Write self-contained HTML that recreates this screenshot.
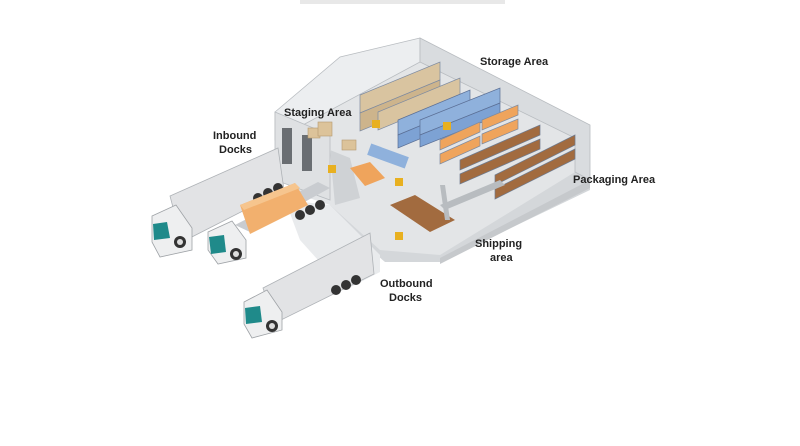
<!DOCTYPE html>
<html><head><style>
html,body{margin:0;padding:0;background:#fff;}
svg{display:block;}
text{font-family:"Liberation Sans",Arial,sans-serif;font-weight:bold;font-size:11px;fill:#222;}
</style></head><body>
<svg width="800" height="446" viewBox="0 0 800 446" xmlns="http://www.w3.org/2000/svg">
<rect x="300" y="0" width="205" height="4" fill="#e8e8e8"/>
<!-- floor slab base -->
<polygon points="330,205 590,135 590,190 440,262 385,262 330,215" fill="#d4d7da"/>
<!-- building floor -->
<polygon points="275,140 420,62 575,138 575,172 440,255 380,250 330,205 300,195" fill="#e3e5e7"/>
<!-- back walls -->
<polygon points="275,112 340,57 420,38 420,62 275,140" fill="#eceef0" stroke="#b8bcc0" stroke-width="0.8"/>
<polygon points="420,38 590,125 590,180 575,172 575,138 420,62" fill="#d9dcdf" stroke="#b8bcc0" stroke-width="0.8"/>
<polygon points="590,180 440,258 440,264 590,188" fill="#c6c9cc"/>
<!-- dock wall -->
<polygon points="275,112 330,135 330,200 275,180" fill="#dfe1e3" stroke="#b8bcc0" stroke-width="0.8"/>
<rect x="282" y="128" width="10" height="36" fill="#6a6e72"/>
<rect x="302" y="135" width="10" height="36" fill="#6a6e72"/>
<polygon points="330,150 350,158 360,198 335,205" fill="#cfd2d5"/>
<!-- lower apron -->
<polygon points="285,200 330,205 380,255 380,272 345,290 300,240" fill="#e9ebed"/>
<!-- storage racks tan -->
<g fill="#d9c4a0" stroke="#7d8aa0" stroke-width="0.7">
<polygon points="360,95 440,62 440,80 360,113"/>
<polygon points="360,113 440,80 440,98 360,131" fill="#cdb48c"/>
<polygon points="378,112 460,78 460,96 378,130"/>
</g>
<!-- blue racks -->
<g fill="#8fb1dc" stroke="#5b6f95" stroke-width="0.7">
<polygon points="398,120 470,90 470,105 398,135"/>
<polygon points="398,135 470,105 470,118 398,148" fill="#7da2d4"/>
<polygon points="420,120 500,88 500,103 420,135"/>
<polygon points="420,135 500,103 500,115 420,147" fill="#7da2d4"/>
</g>
<!-- orange racks -->
<g fill="#efa45c" stroke="#7d8aa0" stroke-width="0.7">
<polygon points="440,140 480,122 480,132 440,150"/>
<polygon points="440,154 480,136 480,146 440,164"/>
<polygon points="482,120 518,105 518,115 482,130"/>
<polygon points="482,134 518,119 518,129 482,144"/>
</g>
<!-- brown racks -->
<g fill="#a26b3f" stroke="#6e7a8e" stroke-width="0.7">
<polygon points="460,160 540,125 540,135 460,170"/>
<polygon points="460,174 540,139 540,149 460,184"/>
<polygon points="495,175 575,135 575,145 495,185"/>
<polygon points="495,189 575,149 575,159 495,199"/>
</g>
<!-- staging boxes -->
<g fill="#dcc39a" stroke="#b59a70" stroke-width="0.6">
<rect x="308" y="128" width="12" height="10"/>
<rect x="318" y="122" width="14" height="14"/>
<rect x="342" y="140" width="14" height="10"/>
</g>
<polygon points="350,168 370,162 385,178 365,186" fill="#efa45c"/>
<rect x="368" y="150" width="40" height="12" fill="#8fb1dc" transform="rotate(20 388 156)"/>
<!-- shipping boxes -->
<polygon points="390,205 415,195 455,220 430,232" fill="#a26b3f"/>
<polygon points="440,205 500,180 505,185 445,210" fill="#b8bcc0"/>
<polygon points="440,185 445,220 450,220 445,185" fill="#b8bcc0"/>
<!-- forklifts -->
<g fill="#e8b020"><rect x="328" y="165" width="8" height="8"/><rect x="395" y="178" width="8" height="8"/><rect x="395" y="232" width="8" height="8"/><rect x="372" y="120" width="8" height="8"/><rect x="443" y="122" width="8" height="8"/></g>
<!-- truck 1 -->
<polygon points="170,196 278,148 284,190 182,242" fill="#e2e3e5" stroke="#aeb2b6" stroke-width="0.8"/>
<polygon points="152,216 176,205 192,228 192,250 160,257 152,242" fill="#eeeff0" stroke="#9ea2a6" stroke-width="0.8"/>
<polygon points="153,224 167,222 170,238 154,240" fill="#1f8a8a"/>
<circle cx="180" cy="242" r="6" fill="#333"/><circle cx="180" cy="242" r="3" fill="#ddd"/>
<g fill="#333"><circle cx="258" cy="198" r="5"/><circle cx="268" cy="193" r="5"/><circle cx="278" cy="188" r="5"/></g>
<!-- truck 2 flatbed -->
<polygon points="235,225 318,182 330,188 250,232" fill="#c9ccd0"/>
<polygon points="240,205 295,183 308,205 250,234" fill="#f2b06e"/>
<polygon points="240,205 295,183 300,188 244,210" fill="#f6c58e"/>
<polygon points="208,232 232,221 246,240 246,258 218,264 208,250" fill="#eeeff0" stroke="#9ea2a6" stroke-width="0.8"/>
<polygon points="209,237 224,235 226,252 211,254" fill="#1f8a8a"/>
<circle cx="236" cy="254" r="6" fill="#333"/><circle cx="236" cy="254" r="3" fill="#ddd"/>
<g fill="#333"><circle cx="300" cy="215" r="5"/><circle cx="310" cy="210" r="5"/><circle cx="320" cy="205" r="5"/></g>
<!-- truck 3 -->
<polygon points="263,288 370,233 374,274 275,323" fill="#e2e3e5" stroke="#aeb2b6" stroke-width="0.8"/>
<polygon points="244,302 267,290 282,312 282,330 252,338 244,324" fill="#eeeff0" stroke="#9ea2a6" stroke-width="0.8"/>
<polygon points="245,308 260,306 262,322 246,324" fill="#1f8a8a"/>
<circle cx="272" cy="326" r="6" fill="#333"/><circle cx="272" cy="326" r="3" fill="#ddd"/>
<g fill="#333"><circle cx="336" cy="290" r="5"/><circle cx="346" cy="285" r="5"/><circle cx="356" cy="280" r="5"/></g>
<!-- labels -->
<text x="480" y="65">Storage Area</text>
<text x="284" y="116">Staging Area</text>
<text x="213" y="139">Inbound</text>
<text x="219" y="153">Docks</text>
<text x="573" y="183">Packaging Area</text>
<text x="475" y="247">Shipping</text>
<text x="490" y="261">area</text>
<text x="380" y="287">Outbound</text>
<text x="389" y="301">Docks</text>
</svg>
</body></html>
